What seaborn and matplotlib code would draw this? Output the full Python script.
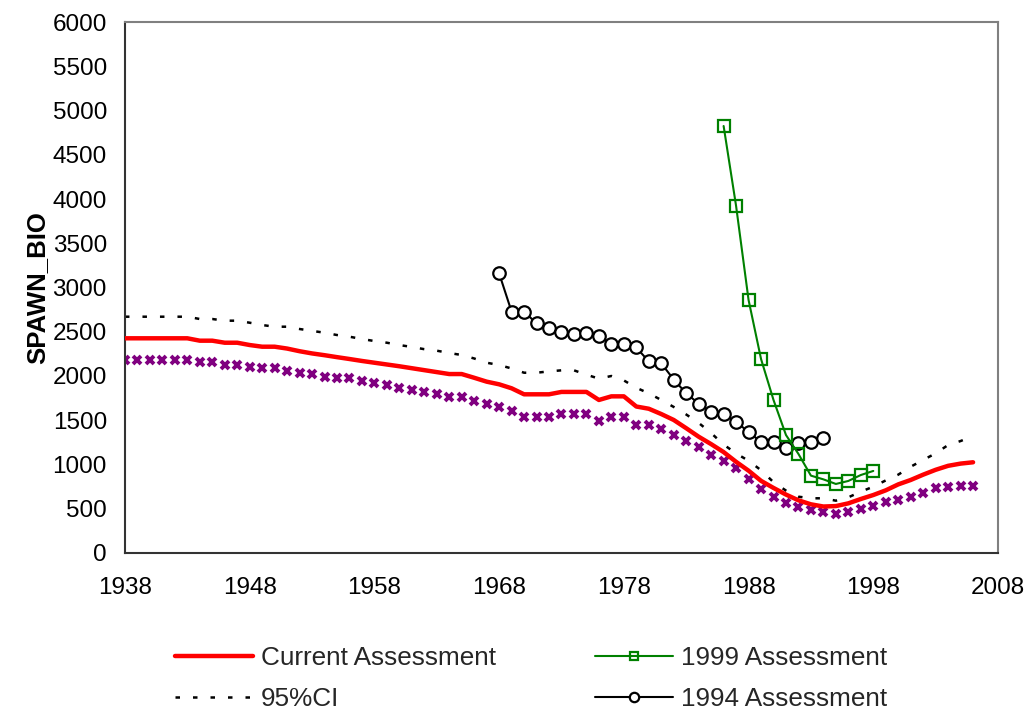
import numpy as np
import pandas as pd
import matplotlib
matplotlib.use("Agg")
import matplotlib.pyplot as plt
import seaborn as sns

# ---- spawning biomass series ----
years_current = list(range(1938, 2007))
current = [2426, 2426, 2426, 2426, 2426, 2426, 2399, 2399, 2376, 2376,
           2350, 2331, 2331, 2310, 2280, 2255, 2235, 2213, 2192, 2170,
           2150, 2130, 2110, 2088, 2066, 2044, 2022, 2022, 1980, 1936,
           1906, 1861, 1793, 1793, 1793, 1820, 1820, 1820, 1729, 1770,
           1770, 1655, 1630, 1570, 1503, 1410, 1314, 1230, 1140, 1030,
           930, 815, 735, 660, 595, 550, 525, 530, 561, 610,
           655, 708, 775, 825, 885, 940, 985, 1010, 1025]

ci_upper = [2670, 2670, 2670, 2670, 2670, 2670, 2644, 2644, 2625, 2625,
            2602, 2576, 2557, 2557, 2531, 2510, 2489, 2463, 2444, 2418,
            2395, 2376, 2350, 2328, 2303, 2286, 2260, 2237, 2198, 2150,
            2124, 2085, 2037, 2037, 2052, 2064, 2064, 2015, 1970, 2000,
            1950, 1867, 1804, 1729, 1650, 1565, 1470, 1355, 1225, 1125,
            1042, 935, 800, 705, 636, 618, 618, 591, 629, 693,
            749, 820, 885, 975, 1051, 1126, 1220, 1265, 1322]

ci_lower = [2181, 2181, 2181, 2181, 2181, 2181, 2154, 2154, 2128, 2128,
            2105, 2087, 2087, 2060, 2037, 2019, 1992, 1974, 1974, 1947,
            1925, 1898, 1868, 1842, 1816, 1793, 1766, 1766, 1721, 1684,
            1653, 1608, 1540, 1540, 1540, 1571, 1571, 1571, 1495, 1540,
            1540, 1450, 1450, 1401, 1337, 1268, 1198, 1107, 1040, 957,
            836, 723, 636, 568, 523, 486, 460, 437, 460, 497,
            531, 573, 599, 636, 681, 731, 749, 752, 752]

years_1999 = list(range(1986, 1999))
assess_1999 = [4825, 3921, 2859, 2192, 1729, 1333, 1119, 874, 832, 780,
               814, 881, 927]

years_1994 = list(range(1968, 1995))
assess_1994 = [3160, 2727, 2727, 2595, 2546, 2495, 2475, 2482, 2454, 2365,
               2365, 2322, 2164, 2143, 1960, 1804, 1688, 1595, 1570, 1482,
               1367, 1254, 1254, 1186, 1243, 1254, 1299]

x_ticks = list(range(1938, 2009, 10))
y_ticks = list(range(0, 6001, 500))

sns.set_style("white")
plt.rcParams["font.family"] = ["Liberation Sans", "DejaVu Sans"]

fig = plt.figure(figsize=(10.31, 7.15), dpi=100)
ax = fig.add_axes([0.1212, 0.2266, 0.8468, 0.7426])

df_cur = pd.DataFrame({"year": years_current, "current": current,
                       "upper": ci_upper, "lower": ci_lower})
df_99 = pd.DataFrame({"year": years_1999, "value": assess_1999})
df_94 = pd.DataFrame({"year": years_1994, "value": assess_1994})

# lower confidence bound: purple cross marks, one per year
sns.lineplot(data=df_cur, x="year", y="lower", ax=ax, color="#800080",
             linestyle="none", marker="x", markersize=5.5,
             markeredgecolor="#800080", markeredgewidth=2.8, zorder=2)
# upper confidence bound: fine black dashes
sns.lineplot(data=df_cur, x="year", y="upper", ax=ax, color="black",
             linewidth=1.8, linestyle=(0, (1.8, 5.2)), label="95%CI", zorder=2)
sns.lineplot(data=df_cur, x="year", y="current", ax=ax, color="#FF0000",
             linewidth=3.2, label="Current Assessment", zorder=3)
sns.lineplot(data=df_99, x="year", y="value", ax=ax, color="#008000",
             linewidth=1.5, marker="s", markersize=8, markerfacecolor="none",
             markeredgecolor="#008000", markeredgewidth=1.6,
             label="1999 Assessment", zorder=5)
sns.lineplot(data=df_94, x="year", y="value", ax=ax, color="black",
             linewidth=1.5, marker="o", markersize=9, markerfacecolor="white",
             markeredgecolor="black", markeredgewidth=1.6,
             label="1994 Assessment", zorder=4)

ax.set_xlim(1938, 2008)
ax.set_ylim(0, 6000)
ax.set_xticks(x_ticks)
ax.set_yticks(y_ticks)
ax.set_xticklabels([str(t) for t in x_ticks])
ax.set_yticklabels([str(t) for t in y_ticks])
ax.tick_params(axis="both", which="major", labelsize=17.5, colors="#333333",
               labelcolor="black", length=5, width=1.2, direction="out")
ax.tick_params(axis="x", pad=12)
ax.tick_params(axis="y", pad=8)
ax.set_xlabel("")
ax.set_ylabel("SPAWN_BIO", fontsize=18.5, fontweight="bold", color="black")
ax.yaxis.set_label_coords(-0.1003, 0.5)
ax.yaxis.label.set_verticalalignment("center")

for side in ("left", "bottom"):
    ax.spines[side].set_color("#333333")
    ax.spines[side].set_linewidth(1.5)
for side in ("top", "right"):
    ax.spines[side].set_color("#808080")
    ax.spines[side].set_linewidth(1.5)
    ax.spines[side].set_visible(True)
ax.grid(False)

handles, labels = ax.get_legend_handles_labels()
if ax.get_legend() is not None:
    ax.get_legend().remove()
lookup = dict(zip(labels, handles))
order = ["Current Assessment", "95%CI", "1999 Assessment", "1994 Assessment"]
leg = fig.legend([lookup[k] for k in order], order, loc="center",
                 bbox_to_anchor=(0.515, 0.051), ncol=2, frameon=False,
                 fontsize=18.8, handlelength=3.0, handletextpad=0.3,
                 columnspacing=3.8, labelspacing=0.68, borderpad=0,
                 markerscale=0.75)

fig.savefig("out.png", dpi=100)
